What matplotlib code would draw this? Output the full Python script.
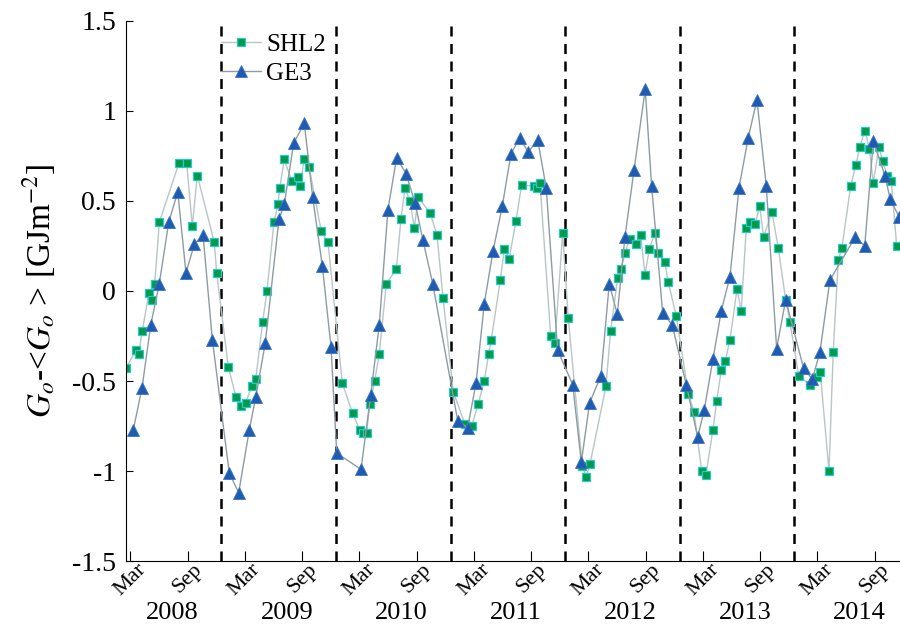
import matplotlib
matplotlib.use('Agg')
import matplotlib.pyplot as plt
import matplotlib.transforms as transforms

# decimal years and G_o - <G_o> values
shl2_t = [2008.166, 2008.251, 2008.277, 2008.309, 2008.367, 2008.391, 2008.417, 2008.457,
          2008.629, 2008.696, 2008.745, 2008.789, 2008.937, 2008.958, 2009.059, 2009.127,
          2009.168, 2009.211, 2009.264, 2009.299, 2009.360, 2009.397, 2009.458, 2009.493,
          2009.508, 2009.548, 2009.613, 2009.665, 2009.688, 2009.720, 2009.764, 2009.871,
          2009.930, 2010.054, 2010.145, 2010.206, 2010.235, 2010.267, 2010.294, 2010.337,
          2010.377, 2010.439, 2010.526, 2010.567, 2010.602, 2010.645, 2010.683, 2010.718,
          2010.823, 2010.881, 2010.934, 2011.023, 2011.126, 2011.184, 2011.239, 2011.294,
          2011.332, 2011.355, 2011.434, 2011.469, 2011.512, 2011.571, 2011.620, 2011.725,
          2011.751, 2011.780, 2011.874, 2011.911, 2011.978, 2012.027, 2012.149, 2012.184,
          2012.217, 2012.356, 2012.397, 2012.458, 2012.487, 2012.522, 2012.563, 2012.621,
          2012.659, 2012.697, 2012.734, 2012.781, 2012.810, 2012.869, 2012.900, 2012.970,
          2013.075, 2013.124, 2013.192, 2013.229, 2013.290, 2013.323, 2013.363, 2013.398,
          2013.439, 2013.500, 2013.537, 2013.581, 2013.613, 2013.657, 2013.698, 2013.733,
          2013.805, 2013.860, 2013.925, 2013.962, 2014.038, 2014.137, 2014.196, 2014.227,
          2014.303, 2014.340, 2014.384, 2014.416, 2014.492, 2014.538, 2014.573, 2014.617,
          2014.655, 2014.690, 2014.739, 2014.772, 2014.812, 2014.847, 2014.894]
shl2_v = [-0.43, -0.33, -0.35, -0.22, -0.01, -0.05, 0.04, 0.38,
          0.71, 0.71, 0.36, 0.64, 0.27, 0.10, -0.42, -0.59,
          -0.64, -0.62, -0.53, -0.49, -0.17, 0.00, 0.38, 0.48,
          0.57, 0.73, 0.61, 0.63, 0.58, 0.73, 0.69, 0.33,
          0.27, -0.51, -0.68, -0.77, -0.79, -0.79, -0.63, -0.50,
          -0.35, 0.04, 0.12, 0.40, 0.57, 0.50, 0.35, 0.52,
          0.43, 0.31, -0.04, -0.56, -0.74, -0.75, -0.63, -0.50,
          -0.35, -0.27, 0.06, 0.23, 0.18, 0.39, 0.59, 0.58,
          0.57, 0.60, -0.25, -0.29, 0.32, -0.15, -0.97, -1.03,
          -0.96, -0.53, -0.22, 0.07, 0.12, 0.21, 0.29, 0.26,
          0.31, 0.09, 0.23, 0.32, 0.21, 0.16, 0.05, -0.14,
          -0.57, -0.67, -1.00, -1.02, -0.77, -0.61, -0.44, -0.39,
          -0.27, 0.01, -0.11, 0.35, 0.38, 0.37, 0.47, 0.30,
          0.44, 0.24, -0.05, -0.17, -0.47, -0.52, -0.48, -0.45,
          -1.00, -0.34, 0.17, 0.24, 0.58, 0.70, 0.80, 0.89,
          0.79, 0.60, 0.80, 0.72, 0.64, 0.61, 0.25]

ge3_t = [2008.230, 2008.306, 2008.382, 2008.457, 2008.539, 2008.618, 2008.690, 2008.763,
         2008.839, 2008.920, 2009.068, 2009.150, 2009.243, 2009.299, 2009.382, 2009.502,
         2009.548, 2009.630, 2009.723, 2009.796, 2009.880, 2009.956, 2010.006, 2010.218,
         2010.302, 2010.377, 2010.453, 2010.529, 2010.611, 2010.689, 2010.759, 2010.844,
         2011.062, 2011.149, 2011.222, 2011.294, 2011.370, 2011.451, 2011.527, 2011.603,
         2011.678, 2011.760, 2011.835, 2011.935, 2012.066, 2012.141, 2012.214, 2012.313,
         2012.385, 2012.455, 2012.522, 2012.601, 2012.699, 2012.755, 2012.851, 2012.935,
         2013.057, 2013.157, 2013.214, 2013.290, 2013.363, 2013.439, 2013.517, 2013.598,
         2013.674, 2013.756, 2013.846, 2013.925, 2014.082, 2014.157, 2014.224, 2014.311,
         2014.533, 2014.615, 2014.690, 2014.792, 2014.837, 2014.916]
ge3_v = [-0.77, -0.54, -0.19, 0.04, 0.38, 0.55, 0.10, 0.26,
         0.31, -0.27, -1.01, -1.12, -0.77, -0.59, -0.29, 0.40,
         0.48, 0.82, 0.93, 0.52, 0.14, -0.31, -0.90, -0.99,
         -0.58, -0.19, 0.45, 0.74, 0.65, 0.49, 0.28, 0.04,
         -0.72, -0.76, -0.51, -0.07, 0.22, 0.47, 0.76, 0.85,
         0.77, 0.84, 0.57, -0.33, -0.52, -0.95, -0.62, -0.47,
         0.04, -0.13, 0.30, 0.67, 1.12, 0.58, -0.12, -0.19,
         -0.52, -0.81, -0.66, -0.38, -0.11, 0.08, 0.57, 0.85,
         1.06, 0.58, -0.32, -0.05, -0.43, -0.49, -0.34, 0.06,
         0.30, 0.25, 0.83, 0.64, 0.51, 0.41]

years = [2008, 2009, 2010, 2011, 2012, 2013, 2014]
month_labels = ['Mar', 'Sep']

plt.rcParams['font.family'] = ['Liberation Serif', 'DejaVu Serif']
plt.rcParams['mathtext.fontset'] = 'stix'

fig = plt.figure(figsize=(9, 6.25), dpi=100)
ax = fig.add_axes([0.1397, 0.102, 0.8603, 0.865])

# year boundaries
for yr in years[1:]:
    ax.axvline(yr, color='black', linestyle=(0, (4, 3)), linewidth=1.8, zorder=1)

ax.plot(shl2_t, shl2_v, color='#b8c6c6', linewidth=1.0, marker='s', markersize=6,
        markerfacecolor='#009a4a', markeredgecolor='#2cc8c8', markeredgewidth=0.9,
        label='SHL2', zorder=2)
ax.plot(ge3_t, ge3_v, color='#8c9ca2', linewidth=1.0, marker='^', markersize=8,
        markerfacecolor='#1f5bb0', markeredgecolor='#3a74c4', markeredgewidth=0.6,
        label='GE3', zorder=3)

ax.set_xlim(2008.164, 2014.923)
ax.set_ylim(-1.5, 1.5)
ax.set_yticks([-1.5, -1, -0.5, 0, 0.5, 1, 1.5])
ax.set_yticklabels(['-1.5', '-1', '-0.5', '0', '0.5', '1', '1.5'])

tick_pos = []
tick_lab = []
for yr in years:
    tick_pos += [yr + 74 / 365, yr + 257 / 365]
    tick_lab += month_labels
ax.set_xticks(tick_pos)
ax.set_xticklabels(tick_lab, rotation=45, ha='center', fontsize=16)

ax.tick_params(axis='both', direction='in')
ax.tick_params(axis='y', length=5, pad=7, labelsize=20)
ax.tick_params(axis='x', length=7, pad=-1)
ax.spines['top'].set_visible(False)
ax.spines['right'].set_visible(False)

trans = transforms.blended_transform_factory(ax.transData, ax.transAxes)
for yr in years:
    ax.text(yr + 0.57, -0.096, str(yr), transform=trans, ha='center', va='center',
            fontsize=19)

ax.set_ylabel(r'$G_o$-<$G_o$ > [GJm$^{-2}$]', fontsize=24, labelpad=10)

ax.legend(loc='upper left', bbox_to_anchor=(0.11, 0.995), frameon=False, fontsize=18,
          handlelength=1.6, handletextpad=0.2, labelspacing=0.25, borderaxespad=0)

fig.savefig('out.png', dpi=100)
